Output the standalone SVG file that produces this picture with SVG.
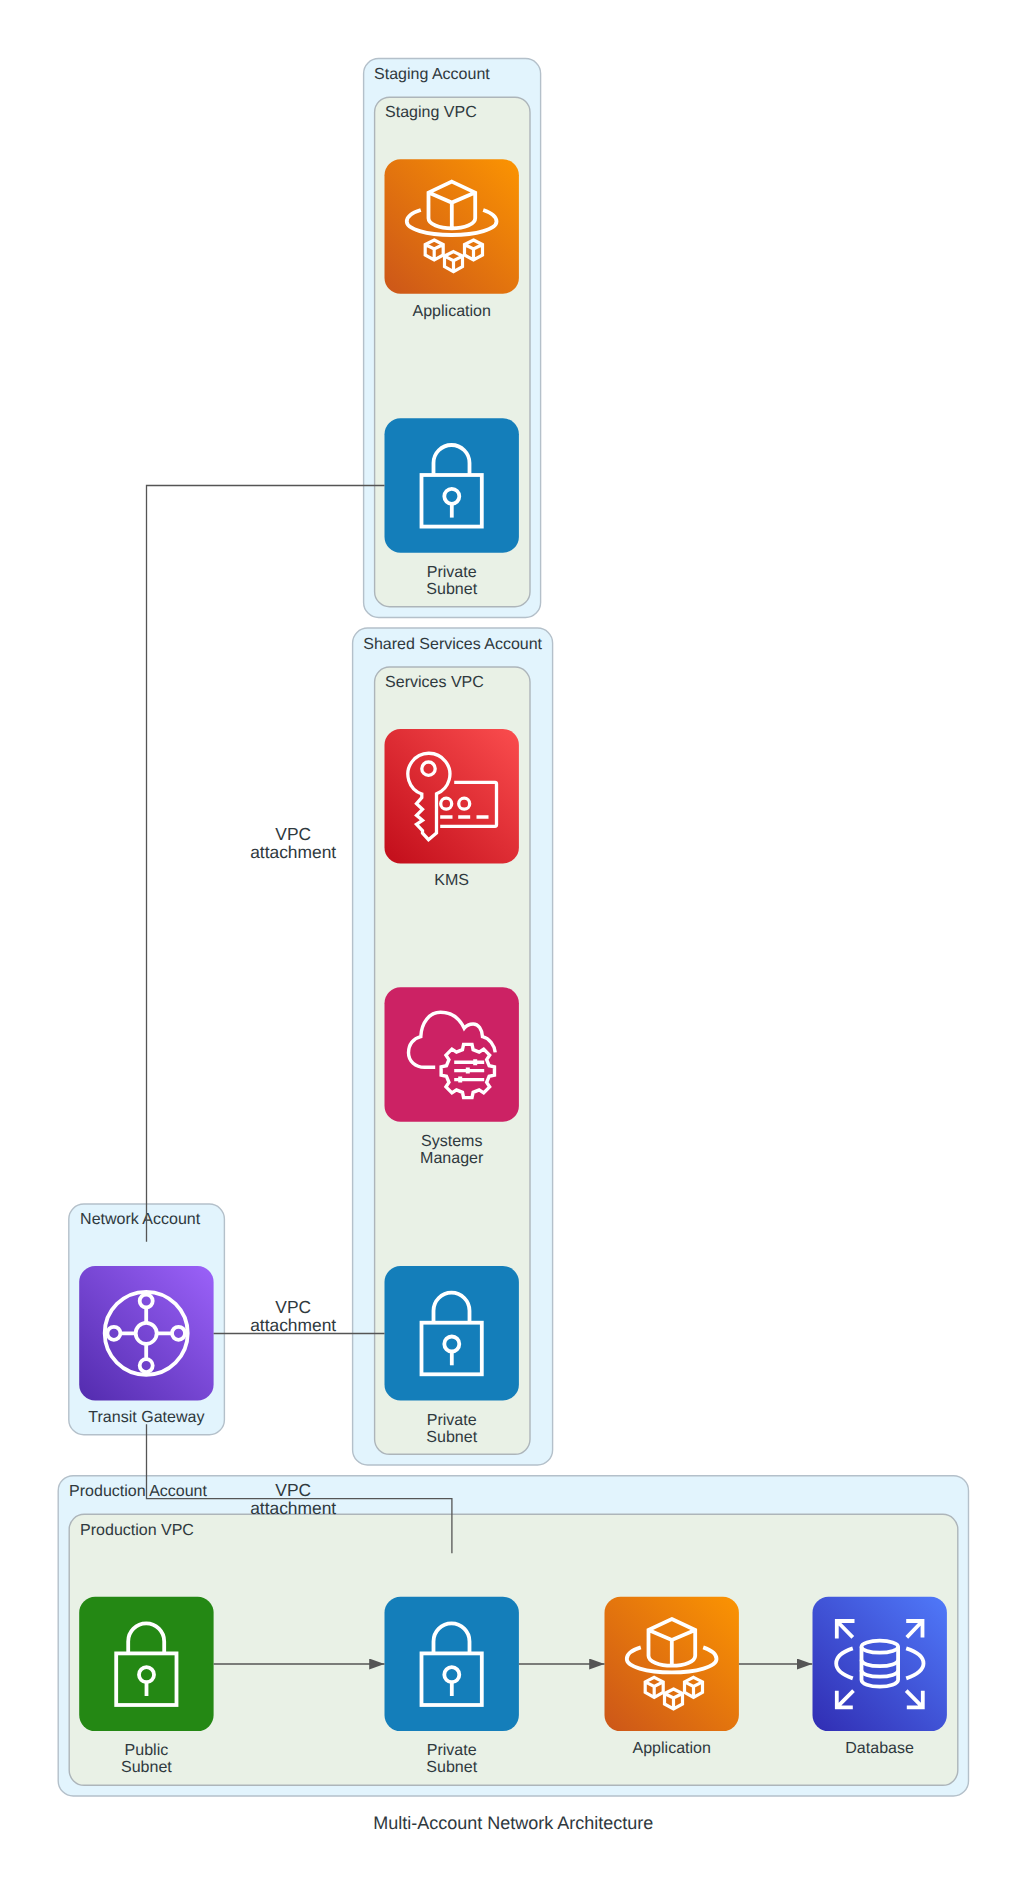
<svg xmlns="http://www.w3.org/2000/svg" width="1028" height="1885" viewBox="0 0 1028 1885">
<style>
text{font-family:"Liberation Sans",Arial,Helvetica,sans-serif;fill:#2f393e;text-rendering:geometricPrecision}
.lbl{font-size:16.05px;text-anchor:middle}
.cl{font-size:16px}
.el{font-size:17.4px;text-anchor:middle}
.title{font-size:18px;text-anchor:middle}
.acct{fill:#e2f4fd;stroke:#b4c0ca;stroke-width:1.4}
.vpc{fill:#e9f1e6;stroke:#adb5ba;stroke-width:1.4}
.ic{fill:none;stroke:#fff;stroke-width:3.8;stroke-linejoin:miter}
.edge{fill:none;stroke:#555;stroke-width:1.3}
.arr{marker-end:url(#ah)}
</style>
<defs>
<marker id="ah" markerUnits="userSpaceOnUse" markerWidth="16" markerHeight="12" refX="15.3" refY="5.5" orient="auto"><path d="M0,0L15.3,5.5L0,11z" fill="#555"/></marker>
<linearGradient id="gO" x1="-0.08" y1="1.08" x2="1.08" y2="-0.08"><stop offset="0" stop-color="#c8511b"/><stop offset="1" stop-color="#f90"/></linearGradient>
<linearGradient id="gR" x1="-0.08" y1="1.08" x2="1.08" y2="-0.08"><stop offset="0" stop-color="#bd0816"/><stop offset="1" stop-color="#ff5252"/></linearGradient>
<linearGradient id="gP" x1="-0.08" y1="1.08" x2="1.08" y2="-0.08"><stop offset="0" stop-color="#4d27a8"/><stop offset="1" stop-color="#a166ff"/></linearGradient>
<linearGradient id="gB" x1="-0.08" y1="1.08" x2="1.08" y2="-0.08"><stop offset="0" stop-color="#2e27ad"/><stop offset="1" stop-color="#527fff"/></linearGradient>
<g id="cube"><path d="M0,-10L9,-5.5V5L0,10L-9,5V-5.5zM-9,-5.5L0,-1L9,-5.5M0,-1V10"/></g>
<g id="iApp" class="ic">
<path d="M67.3,22.3L90.7,33.3V59C90.7,65 80,69 67.3,69C55,69 44,65 44,59V33.3zM44,33.3L67.3,43.3L90.7,33.3M67.3,43.3V69"/>
<path d="M36.3,50.7C27,53.5 22.3,58 22.3,62.3C22.3,70 42,75.7 67.3,75.7C92,75.7 112,70 112,62.3C112,58 107,53.5 98.7,50.7"/>
<use href="#cube" x="49.7" y="90.7" style="stroke-width:3.2"/>
<use href="#cube" x="69" y="102.3" style="stroke-width:3.2"/>
<use href="#cube" x="89" y="90.7" style="stroke-width:3.2"/>
</g>
<g id="iLock" class="ic">
<rect x="37" y="56.7" width="60.3" height="51.6"/>
<path d="M49,56.7V44.7A18,18 0 0 1 85,44.7V56.7"/>
<circle cx="67.3" cy="78" r="7.5"/>
<path d="M67.3,85.5V99.3"/>
</g>
<g id="iKms" class="ic" style="stroke-width:3.3">
<circle cx="44" cy="39.7" r="6.7"/>
<path d="M37.3,65A21,21 0 1 1 52,64.8V104L44,110.7L38,104V101.7L32,95.3L38,91.3L32,86.3L38,80.3L32,74.7L37.3,68.7z"/>
<path d="M69.7,53.3H110.5Q112,53.3 112,54.8V95.8Q112,97.3 110.5,97.3H55.7"/>
<circle cx="61.7" cy="74.7" r="5.5"/>
<circle cx="79.7" cy="74.7" r="5.5"/>
<path d="M55.7,88H68M73.7,88H85.7M92,88H104"/>
</g>
<g id="iSsm" class="ic" style="stroke-width:3.4">
<path d="M50.7,80H40C31,80 24,74 24,65.5C24,57 29,51 36.3,49.3C37,35 45,25 56,25C67,25 75,31 79.7,41C82,38 85,36.7 88.7,36.7C94,36.7 97.5,42 98,49.3C105,51 110,58 110.7,65"/>
<path transform="translate(83.3,83.7)" d="M-5.32,-21.35L-4.22,-26.67H4.22L5.32,-21.35L11.33,-18.86L15.87,-21.84L21.84,-15.87L18.86,-11.33L21.35,-5.32L26.67,-4.22V4.22L21.35,5.32L18.86,11.33L21.84,15.87L15.87,21.84L11.33,18.86L5.32,21.35L4.22,26.67H-4.22L-5.32,21.35L-11.33,18.86L-15.87,21.84L-21.84,15.87L-18.86,11.33L-21.35,5.32L-26.67,4.22V-4.22L-21.35,-5.32L-18.86,-11.33L-21.84,-15.87L-15.87,-21.84L-11.33,-18.86z"/>
<path d="M69.7,75H99.7M69.7,83.3H99.7M69.7,92.3H99.7"/>
<path d="M90.7,72V78M83.3,80.3V86.3M75.7,89.3V95.3" style="stroke-width:4"/>
</g>
<g id="iTgw" class="ic">
<circle cx="67" cy="67.3" r="41.5"/>
<circle cx="67" cy="67.3" r="10.5"/>
<circle cx="67" cy="35" r="6.5"/>
<circle cx="67" cy="99.6" r="6.5"/>
<circle cx="34.7" cy="67.3" r="6.5"/>
<circle cx="99.3" cy="67.3" r="6.5"/>
<path d="M67,41.5V56.8M67,77.8V93.1M41.2,67.3H56.5M77.5,67.3H92.8"/>
</g>
<g id="iDb" class="ic">
<ellipse cx="67.3" cy="50" rx="18.3" ry="6"/>
<path d="M49,50V83C49,87 57,90 67.3,90C77,90 85.6,87 85.6,83V50"/>
<path d="M49,63C49,67 57,69.5 67.3,69.5C77,69.5 85.6,67 85.6,63M49,73.5C49,77.5 57,80 67.3,80C77,80 85.6,77.5 85.6,73.5"/>
<path d="M40.3,51.7C30,55 23.7,60 23.7,66.7C23.7,73 30,78 40.3,81.7M93.7,51.7C104,55 111,60 111,66.7C111,73 104,78 93.7,81.7"/>
<path d="M42,24.3H24.3V41.7M24.3,24.3L40.3,40.7M93.7,24.3H110V40.7M110,24.3L94.3,40.7M40.3,110.7H24.3V94M24.3,110.7L41,94M94.3,110.7H110.3V94M110.3,110.7L93.7,94"/>
</g>
</defs>
<rect width="1028" height="1885" fill="#fff"/>
<g transform="translate(-0.8 0)">
<g id="cluster-staging-account"><rect class="acct" x="364.4" y="58.5" width="177" height="559" rx="15"/><text class="cl" x="374.9" y="79.3">Staging Account</text></g>
<g id="cluster-staging-vpc"><rect class="vpc" x="375.4" y="97.2" width="155.4" height="509.5" rx="15"/><text class="cl" x="385.9" y="117.3">Staging VPC</text></g>
<g id="cluster-shared-account"><rect class="acct" x="353.4" y="628" width="200" height="837" rx="15"/><text class="cl" x="364.1" y="648.5">Shared Services Account</text></g>
<g id="cluster-services-vpc"><rect class="vpc" x="375.4" y="667" width="155.4" height="787.3" rx="15"/><text class="cl" x="385.9" y="687.3">Services VPC</text></g>
<g id="cluster-network-account"><rect class="acct" x="69.6" y="1204" width="155.6" height="230.7" rx="15"/><text class="cl" x="80.9" y="1224">Network Account</text></g>
<g id="cluster-production-account"><rect class="acct" x="59" y="1475.7" width="910.3" height="320.3" rx="15"/><text class="cl" x="69.9" y="1496">Production Account</text></g>
<g id="cluster-production-vpc"><rect class="vpc" x="70" y="1514.3" width="888.6" height="271" rx="15"/><text class="cl" x="80.9" y="1535">Production VPC</text></g>

<g id="node-staging-app"><rect x="385.3" y="159.3" width="134.4" height="134.4" rx="16" fill="url(#gO)"/><use href="#iApp" x="385.3" y="159.3"/><text class="lbl" x="452.5" y="316">Application</text></g>
<g id="node-staging-subnet"><rect x="385.3" y="418.3" width="134.4" height="134.4" rx="16" fill="#147eba"/><use href="#iLock" x="385.3" y="418.3"/><text class="lbl"><tspan x="452.5" y="576.7">Private</tspan><tspan x="452.5" y="593.7">Subnet</tspan></text></g>
<g id="node-kms"><rect x="385.3" y="729" width="134.4" height="134.4" rx="16" fill="url(#gR)"/><use href="#iKms" x="385.3" y="729"/><text class="lbl" x="452.5" y="885">KMS</text></g>
<g id="node-ssm"><rect x="385.3" y="987.3" width="134.4" height="134.4" rx="16" fill="#cc2264"/><use href="#iSsm" x="385.3" y="987.3"/><text class="lbl"><tspan x="452.5" y="1145.7">Systems</tspan><tspan x="452.5" y="1162.7">Manager</tspan></text></g>
<g id="node-shared-subnet"><rect x="385.3" y="1266" width="134.4" height="134.4" rx="16" fill="#147eba"/><use href="#iLock" x="385.3" y="1266"/><text class="lbl"><tspan x="452.5" y="1425">Private</tspan><tspan x="452.5" y="1442">Subnet</tspan></text></g>
<g id="node-tgw"><rect x="80" y="1266" width="134.4" height="134.4" rx="16" fill="url(#gP)"/><use href="#iTgw" x="80" y="1266"/><text class="lbl" x="147.2" y="1421.7">Transit Gateway</text></g>
<g id="node-public-subnet"><rect x="80" y="1596.7" width="134.4" height="134.4" rx="16" fill="#248814"/><use href="#iLock" x="80" y="1596.7"/><text class="lbl"><tspan x="147.2" y="1754.7">Public</tspan><tspan x="147.2" y="1771.7">Subnet</tspan></text></g>
<g id="node-prod-subnet"><rect x="385.3" y="1596.7" width="134.4" height="134.4" rx="16" fill="#147eba"/><use href="#iLock" x="385.3" y="1596.7"/><text class="lbl"><tspan x="452.5" y="1754.7">Private</tspan><tspan x="452.5" y="1771.7">Subnet</tspan></text></g>
<g id="node-prod-app"><rect x="605.3" y="1596.7" width="134.4" height="134.4" rx="16" fill="url(#gO)"/><use href="#iApp" x="605.3" y="1596.7"/><text class="lbl" x="672.5" y="1752.7">Application</text></g>
<g id="node-prod-db"><rect x="813.3" y="1596.7" width="134.4" height="134.4" rx="16" fill="url(#gB)"/><use href="#iDb" x="813.3" y="1596.7"/><text class="lbl" x="880.4" y="1752.7">Database</text></g>

<g id="connectors">
<path class="edge" d="M147.3,1241.7V485.5H385.3"/>
<path class="edge" d="M214.4,1333.5H385.3"/>
<path class="edge" d="M147.3,1424.3V1498.7H452.7V1553.3"/>
<path class="edge arr" d="M214.4,1664H385.3"/>
<path class="edge arr" d="M519.7,1664H605.3"/>
<path class="edge arr" d="M739.7,1664H813"/>
<text class="el"><tspan x="294" y="840">VPC</tspan><tspan x="294" y="858">attachment</tspan></text>
<text class="el"><tspan x="294" y="1312.7">VPC</tspan><tspan x="294" y="1330.7">attachment</tspan></text>
<text class="el"><tspan x="294" y="1495.7">VPC</tspan><tspan x="294" y="1514">attachment</tspan></text>
</g>
<text class="title" x="514" y="1829">Multi-Account Network Architecture</text>
</g>
</svg>
